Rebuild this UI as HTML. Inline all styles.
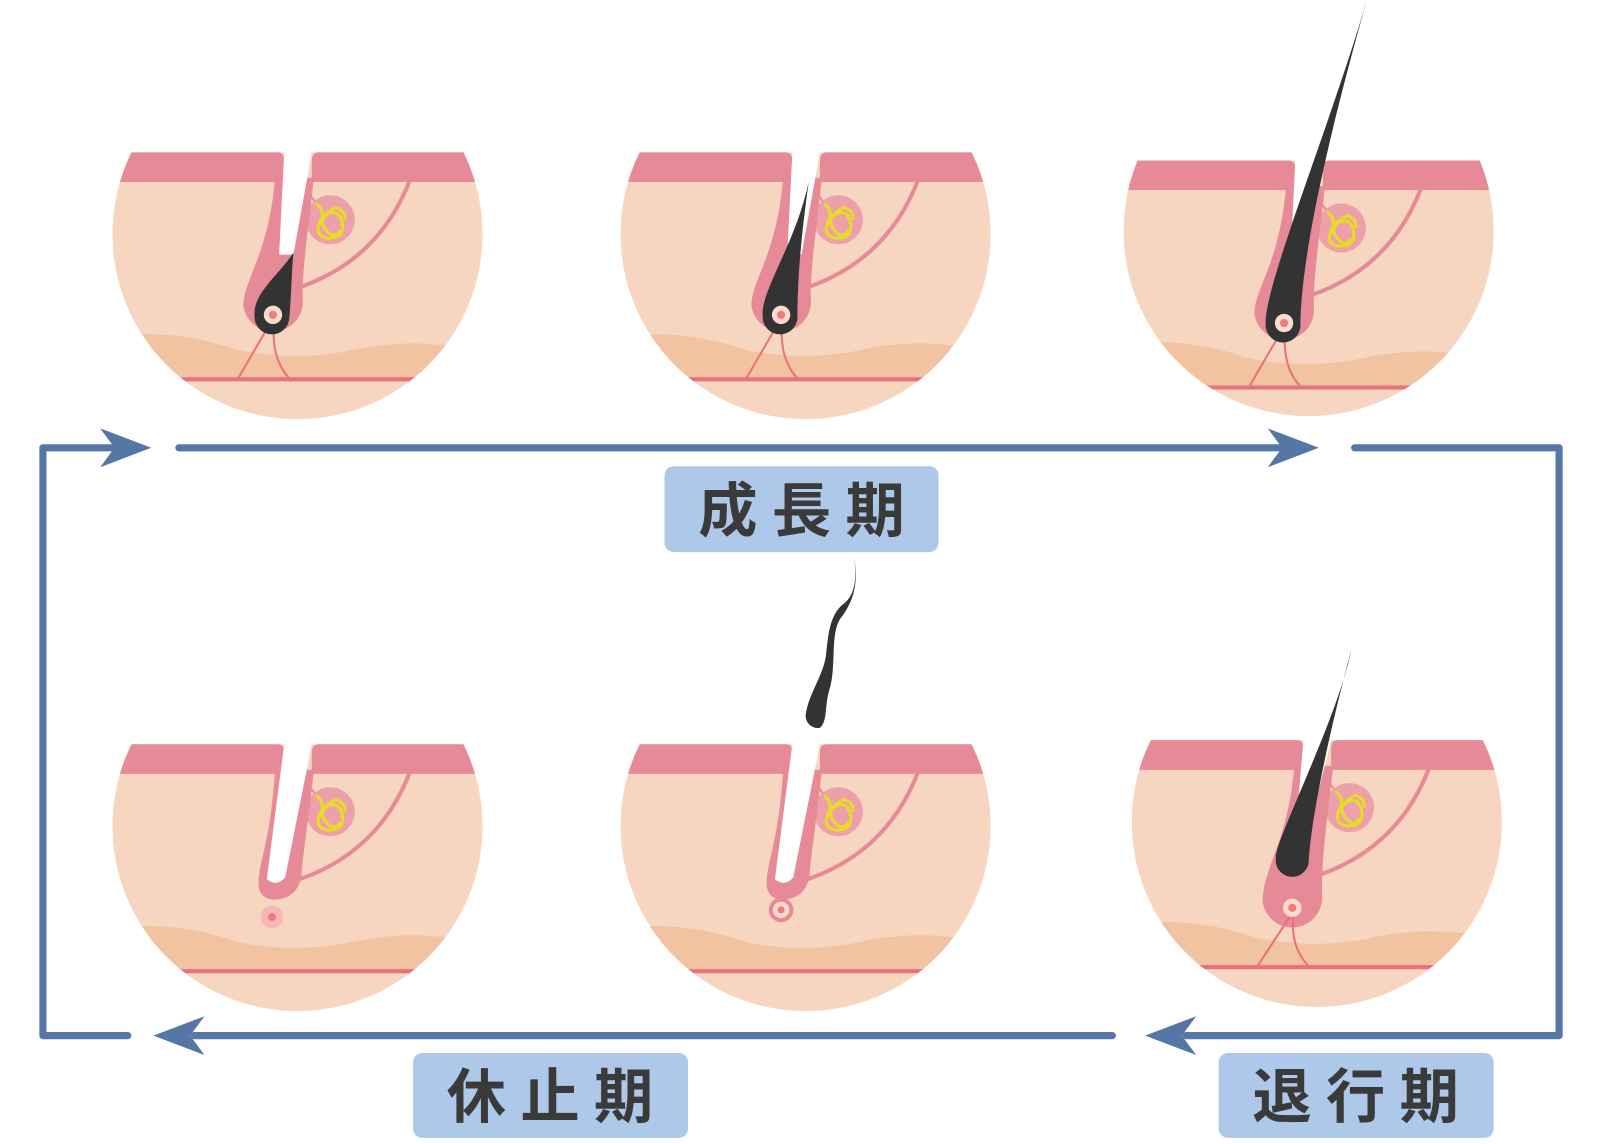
<!DOCTYPE html>
<html><head><meta charset="utf-8"><style>html,body{margin:0;padding:0;background:#fff}svg{display:block}</style></head>
<body>
<svg width="1600" height="1144" viewBox="0 0 1565 1119" preserveAspectRatio="none" xmlns="http://www.w3.org/2000/svg">
<defs>
<clipPath id="cc"><circle cx="0" cy="0" r="181"/></clipPath>
<g id="base">
  <rect x="-181" y="-80" width="362" height="262" fill="#f6d6c1"/>
  <path d="M-181,100 Q-120,92 -60,113 Q0,126 60,112 Q120,100 181,116 L181,142 L-181,142 Z" fill="#f2c3a0"/>
  <rect x="-181" y="140" width="362" height="4" fill="#e9717a"/>
  <path d="M-181,-80 L-20,-80 Q-13,-80 -13,-72 L-13,-51 L-181,-51 Z" fill="#e78a98"/>
  <path d="M181,-80 L21,-80 Q14,-80 14,-72 L14,-51 L181,-51 Z" fill="#e78a98"/>
  <path d="M2,52 Q80,25 110,-53" stroke="#e78a98" stroke-width="4" fill="none"/>
  <path d="M10,-40 Q20,-30 24,-20" stroke="#e78a98" stroke-width="2" fill="none"/>
  <circle cx="32" cy="-14" r="24" fill="#eea0aa"/>
  <path d="M18,-30 Q28,-22 22,-12 Q16,2 30,4 Q46,4 44,-10 Q42,-24 30,-20 Q20,-14 28,-4 Q36,6 42,-4 M20,-6 Q24,-20 38,-26 Q48,-22 46,-14" stroke="#e6dc28" stroke-width="3" fill="none"/>
</g>
<path id="sheath" d="M-22,-55 L16,-55 C10,0 5,30 5,62 A29,29 0 0 1 -53,70 C-53,45 -28,20 -22,-55 Z" fill="#e78a98"/>
<g id="follicle">
  <use href="#sheath"/>
  <path d="M-13,-80 L14,-80 L-4,20 L-18,20 Z" fill="#fff"/>
  <path d="M-22,79 L-58,141 M-22,79 Q-28,120 -8,141" stroke="#e9717a" stroke-width="2" fill="none"/>
</g>
<g id="papilla">
  <circle cx="-24" cy="79" r="9" fill="#f9dccb"/>
  <circle cx="-24" cy="79" r="4" fill="#ef7a80"/>
</g>
<path id="ahR" d="M0,0 L-50,-19 L-36,0 L-50,19 Z" fill="#5676a6"/>
<path id="ahL" d="M0,0 L50,-19 L36,0 L50,19 Z" fill="#5676a6"/>
</defs>

<!-- Panel 1 -->
<g transform="translate(291,229)"><g clip-path="url(#cc)">
  <use href="#base"/><use href="#follicle"/>
  <path d="M-4,18 C-18,40 -44,58 -42,80 A17,17 0 0 0 -8,82 C-6,60 -6,40 -4,18 Z" fill="#333"/>
  <use href="#papilla"/>
</g></g>

<!-- Panel 2 -->
<g transform="translate(788,229)"><g clip-path="url(#cc)">
  <use href="#base"/><use href="#follicle"/>
  <path d="M3,-51 C-10,10 -44,55 -42,80 A17,17 0 0 0 -8,82 C-8,40 -4,0 3,-51 Z" fill="#333"/>
  <use href="#papilla"/>
</g></g>

<!-- Panel 3 -->
<g transform="translate(1280,226)"><g clip-path="url(#cc)"><g transform="translate(0,11)">
  <use href="#base"/><use href="#follicle"/>
</g></g>
  <path d="M57,-226 C20,-100 -44,55 -42,91 A17,17 0 0 0 -8,93 C-8,40 10,-60 57,-226 Z" fill="#333"/>
  <g transform="translate(0,11)"><use href="#papilla"/></g>
</g>

<!-- Panel 4 -->
<g transform="translate(291,808)"><g clip-path="url(#cc)">
  <use href="#base"/>
  <path d="M-22,-55 L16,-55 C10,0 5,30 4,48 Q0,72 -24,72 Q-40,70 -38,52 C-36,30 -26,10 -22,-55 Z" fill="#e78a98"/>
  <path d="M-13,-80 L14,-80 L-12,50 Q-20,60 -30,52 Z" fill="#fff"/>
  <circle cx="-25" cy="89" r="11" fill="#f4b8b8"/>
  <circle cx="-25" cy="89" r="4" fill="#ef7a80"/>
</g></g>

<!-- Panel 5 -->
<g transform="translate(788,808)"><g clip-path="url(#cc)">
  <use href="#base"/>
  <path d="M-22,-55 L16,-55 C10,0 5,30 4,48 Q0,72 -24,72 Q-40,70 -38,52 C-36,30 -26,10 -22,-55 Z" fill="#e78a98"/>
  <path d="M-13,-80 L14,-80 L-12,50 Q-20,60 -30,52 Z" fill="#fff"/>
  <rect x="-28" y="65" width="8" height="12" fill="#e78a98"/>
  <circle cx="-24" cy="82" r="12" fill="#e78a98"/>
  <circle cx="-24" cy="82" r="8" fill="#f9dccb"/>
  <circle cx="-24" cy="82" r="3.5" fill="#ef7a80"/>
</g></g>
<path d="M835,545 C842,575 830,595 822,605 C812,620 818,650 812,672 C806,690 810,705 802,712 A12,12 0 0 1 788,700 C790,680 806,660 808,640 C810,620 812,600 826,590 C838,580 838,560 835,545 Z" fill="#333"/>

<!-- Panel 6 -->
<g transform="translate(1288,804)"><g clip-path="url(#cc)">
  <use href="#base"/>
  <path d="M-22,-55 L16,-55 C10,0 5,30 5,70 A29,29 0 0 1 -53,78 C-53,45 -28,20 -22,-55 Z" fill="#e78a98"/>
  <path d="M-13,-80 L14,-80 L-6,0 L-20,0 Z" fill="#fff"/>
  <path d="M-22,86 L-58,141 M-22,86 Q-28,120 -8,141" stroke="#e9717a" stroke-width="2" fill="none"/>
  <circle cx="-24" cy="84" r="9" fill="#f9dccb"/>
  <circle cx="-24" cy="84" r="4" fill="#ef7a80"/>
</g>
  <path d="M34,-169 C20,-100 -42,20 -40,35 A16,16 0 0 0 -8,40 C-6,0 10,-80 34,-169 Z" fill="#333"/>
</g>

<!-- Arrows -->
<g stroke="#5676a6" stroke-width="7" fill="none" stroke-linecap="round" stroke-linejoin="round">
  <path d="M175,438 L1255,438"/>
  <path d="M1325,438 L1525,438 L1525,1013 L1160,1013"/>
  <path d="M1088,1013 L190,1013"/>
  <path d="M125,1013 L42,1013 L42,438 L115,438"/>
</g>
<use href="#ahR" x="1290" y="438"/>
<use href="#ahR" x="148" y="438"/>
<use href="#ahL" x="1120" y="1013"/>
<use href="#ahL" x="150" y="1013"/>

<!-- Labels -->
<rect x="650" y="456" width="268" height="84" rx="9" fill="#adc8e8"/>
<rect x="404" y="1030" width="269" height="83" rx="9" fill="#adc8e8"/>
<rect x="1192" y="1030" width="269" height="83" rx="9" fill="#adc8e8"/>
<g font-family="'Liberation Sans','Noto Sans CJK JP',sans-serif" font-size="58" font-weight="bold" fill="#3a3a3a" text-anchor="middle" letter-spacing="14">
  <text x="791" y="520">成長期</text>
  <text x="545" y="1093">休止期</text>
  <text x="1333" y="1093">退行期</text>
</g>
</svg>
</body></html>
